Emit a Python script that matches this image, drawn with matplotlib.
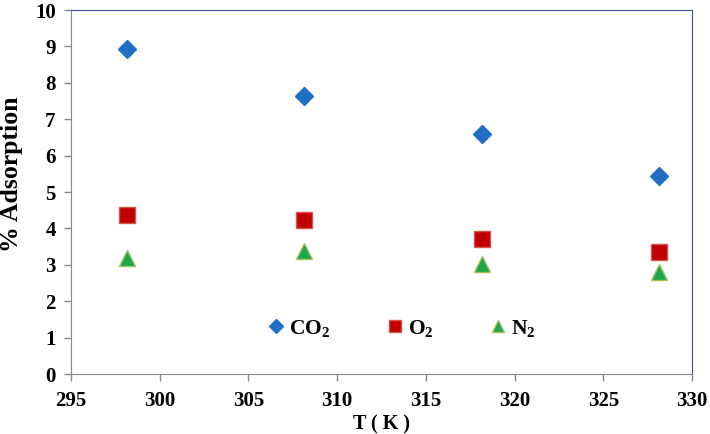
import matplotlib.pyplot as plt
import matplotlib

matplotlib.rcParams['font.family'] = ['Liberation Serif', 'DejaVu Serif']
matplotlib.rcParams['font.weight'] = 'bold'
matplotlib.rcParams['mathtext.fontset'] = 'custom'
matplotlib.rcParams['mathtext.rm'] = 'Liberation Serif:bold'
matplotlib.rcParams['mathtext.bf'] = 'Liberation Serif:bold'
matplotlib.rcParams['mathtext.it'] = 'Liberation Serif:bold'

temperature = [298.15, 308.15, 318.15, 328.15]
co2 = [8.93, 7.63, 6.60, 5.43]
o2 = [4.37, 4.24, 3.71, 3.35]
n2 = [3.18, 3.37, 3.01, 2.80]

fig = plt.figure(figsize=(7.1, 4.34), dpi=100)
ax = fig.add_axes([71 / 710, 1 - 374 / 434, 621 / 710, 364 / 434])

ax.plot(temperature, co2, 'D', color='#1f6fc5', markersize=9.5, label=r'CO$_{2}$')
ax.plot(temperature, o2, 's', color='#c00000', markeredgecolor='#d9534f',
        markeredgewidth=1, markersize=11, label=r'O$_{2}$')
ax.plot(temperature, n2, '^', color='#19a84a', markeredgecolor='#a8c060',
        markeredgewidth=1, markersize=12, label=r'N$_{2}$')

ax.set_xlim(295, 330)
ax.set_ylim(0, 10)
ax.set_xticks(range(295, 331, 5))
ax.set_yticks(range(0, 11))
ax.tick_params(labelsize=15, color='#888888', length=5, width=1)
ax.tick_params(axis='x', pad=7)
ax.tick_params(axis='y', pad=6)
for side in ['left', 'bottom']:
    ax.spines[side].set_color('#888888')
for side in ['top', 'right']:
    ax.spines[side].set_color('#3f4f9f')
ax.set_xlabel('T ( K )', fontsize=14.5, fontweight='bold', labelpad=3)
ax.set_ylabel('% Adsorption', fontsize=18.5, fontweight='bold')
ax.yaxis.set_label_coords(-48 / 621, 0.55)

leg = ax.legend(loc='center', bbox_to_anchor=(0.529, 0.125), ncol=3, frameon=False,
                fontsize=15.5, handletextpad=0.0, columnspacing=2.4, markerscale=0.75,
                handlelength=1.2)

fig.savefig('out.png', dpi=100)
